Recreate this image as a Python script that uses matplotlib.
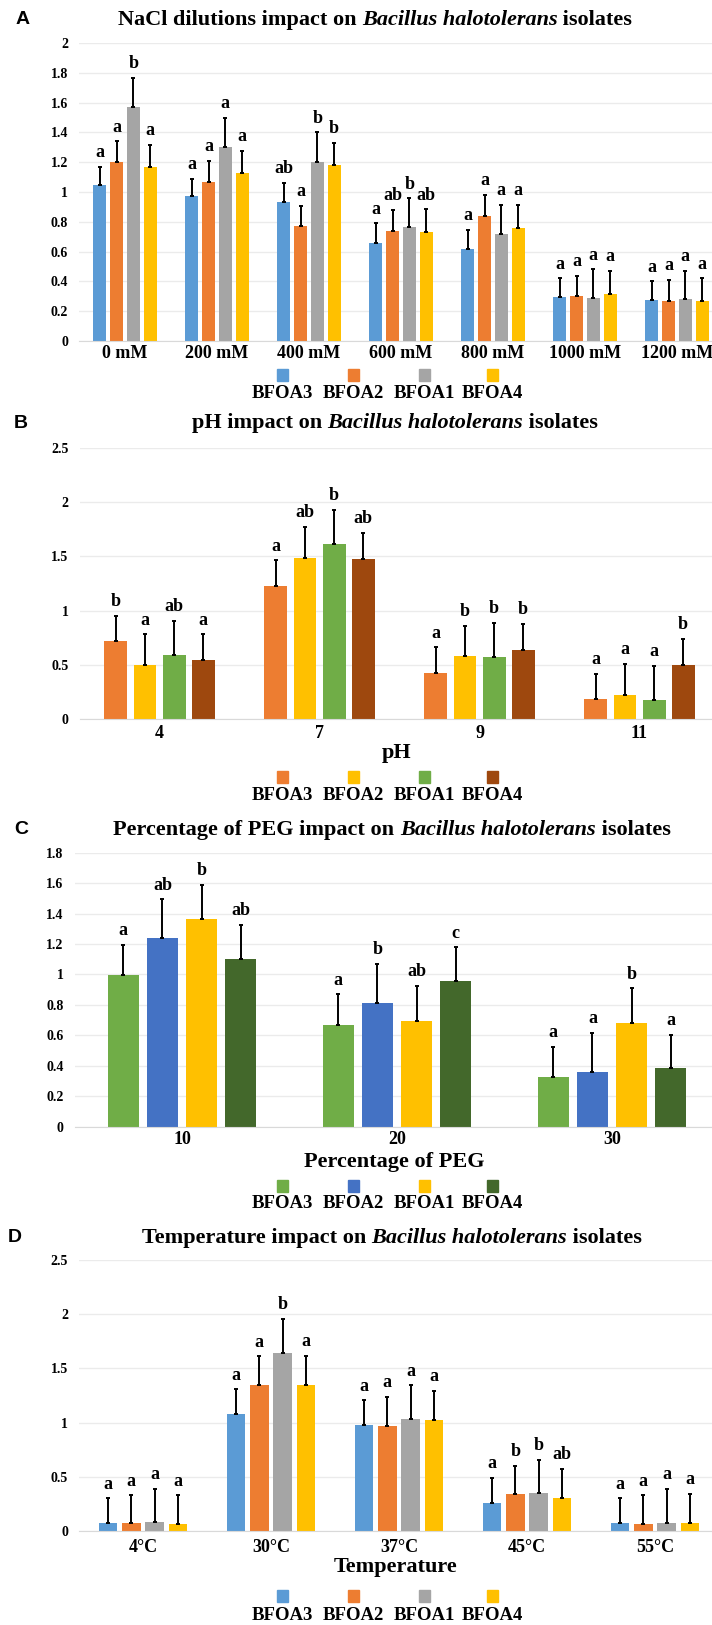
import matplotlib

matplotlib.use("Agg")
import matplotlib.pyplot as plt
import matplotlib.transforms as mtransforms
from matplotlib.patches import Rectangle
import numpy as np

W, H = 712, 1625
SERIF = "Liberation Serif"
SANS = "Liberation Sans"

STRAINS = ["BFOA3", "BFOA2", "BFOA1", "BFOA4"]

# --- A: NaCl ---------------------------------------------------------------
nacl_cats = ["0 mM", "200 mM", "400 mM", "600 mM", "800 mM", "1000 mM", "1200 mM"]
nacl_bfoa3 = [1.05, 0.97, 0.935, 0.66, 0.62, 0.293, 0.275]
nacl_bfoa2 = [1.20, 1.07, 0.772, 0.74, 0.84, 0.30, 0.268]
nacl_bfoa1 = [1.573, 1.30, 1.20, 0.763, 0.72, 0.289, 0.28]
nacl_bfoa4 = [1.166, 1.125, 1.18, 0.733, 0.76, 0.318, 0.268]
nacl_sd3 = [0.12, 0.12, 0.125, 0.13, 0.125, 0.127, 0.125]
nacl_sd2 = [0.14, 0.14, 0.136, 0.14, 0.14, 0.138, 0.141]
nacl_sd1 = [0.194, 0.20, 0.20, 0.195, 0.193, 0.192, 0.192]
nacl_sd4 = [0.149, 0.15, 0.15, 0.151, 0.153, 0.152, 0.152]
nacl_let3 = ["a", "a", "ab", "a", "a", "a", "a"]
nacl_let2 = ["a", "a", "a", "ab", "a", "a", "a"]
nacl_let1 = ["b", "a", "b", "b", "a", "a", "a"]
nacl_let4 = ["a", "a", "b", "ab", "a", "a", "a"]

# --- B: pH -----------------------------------------------------------------
ph_cats = ["4", "7", "9", "11"]
ph_bfoa3 = [0.721, 1.23, 0.429, 0.184]
ph_bfoa2 = [0.50, 1.488, 0.58, 0.227]
ph_bfoa1 = [0.592, 1.614, 0.576, 0.178]
ph_bfoa4 = [0.546, 1.476, 0.641, 0.50]
ph_sd3 = [0.233, 0.234, 0.234, 0.236]
ph_sd2 = [0.283, 0.286, 0.279, 0.283]
ph_sd1 = [0.316, 0.313, 0.314, 0.316]
ph_sd4 = [0.237, 0.237, 0.237, 0.24]
ph_let3 = ["b", "a", "a", "a"]
ph_let2 = ["a", "ab", "b", "a"]
ph_let1 = ["ab", "b", "b", "a"]
ph_let4 = ["a", "ab", "b", "b"]

# --- C: PEG ----------------------------------------------------------------
peg_cats = ["10", "20", "30"]
peg_bfoa3 = [0.996, 0.669, 0.327]
peg_bfoa2 = [1.237, 0.81, 0.36]
peg_bfoa1 = [1.362, 0.696, 0.678]
peg_bfoa4 = [1.099, 0.955, 0.382]
peg_sd3 = [0.197, 0.20, 0.198]
peg_sd2 = [0.257, 0.258, 0.257]
peg_sd1 = [0.228, 0.228, 0.231]
peg_sd4 = [0.226, 0.223, 0.22]
peg_let3 = ["a", "a", "a"]
peg_let2 = ["ab", "b", "a"]
peg_let1 = ["b", "ab", "b"]
peg_let4 = ["ab", "c", "a"]

# --- D: temperature --------------------------------------------------------
temp_cats = ["4°C", "30°C", "37°C", "45°C", "55°C"]
temp_bfoa3 = [0.074, 1.083, 0.981, 0.262, 0.07]
temp_bfoa2 = [0.07, 1.35, 0.966, 0.339, 0.065]
temp_bfoa1 = [0.08, 1.646, 1.033, 0.348, 0.075]
temp_bfoa4 = [0.062, 1.35, 1.021, 0.305, 0.07]
temp_sd3 = [0.226, 0.224, 0.225, 0.227, 0.23]
temp_sd2 = [0.26, 0.262, 0.27, 0.264, 0.265]
temp_sd1 = [0.31, 0.313, 0.311, 0.311, 0.315]
temp_sd4 = [0.268, 0.268, 0.27, 0.271, 0.27]
temp_let3 = ["a", "a", "a", "a", "a"]
temp_let2 = ["a", "a", "a", "b", "a"]
temp_let1 = ["a", "b", "a", "b", "a"]
temp_let4 = ["a", "a", "a", "ab", "a"]

COLORS_AD = ["#5B9BD5", "#ED7D31", "#A5A5A5", "#FFC000"]
COLORS_B = ["#ED7D31", "#FFC000", "#70AD47", "#9E480E"]
COLORS_C = ["#70AD47", "#4472C4", "#FFC000", "#43682B"]

PITCH = 0.182
BAR_W = 0.143


def fx(x):
    return x / W


def fy(y):
    return 1 - y / H


def mixed_title(fig, xc, yc, parts, size):
    """Title made of roman / italic pieces, centred on xc (pixels)."""
    r = fig.canvas.get_renderer()
    texts = [
        fig.text(0, fy(yc), s, fontsize=size, fontweight="bold", fontstyle=st,
                 family=SERIF, va="center", ha="left")
        for s, st in parts
    ]
    widths = [t.get_window_extent(r).width for t in texts]
    x = xc - sum(widths) / 2
    for t, w in zip(texts, widths):
        t.set_x(fx(x))
        x += w


def draw_panel(fig, box, cats, means, sds, letters, colors, ymax, ystep,
               title, title_xc, title_y, tag, tag_xy, xlabel, lay):
    left, right, top, bottom = box
    ax = fig.add_axes([fx(left), fy(bottom), fx(right - left), (bottom - top) / H])
    n = len(cats)
    x = np.arange(n)
    for j in range(4):
        xs = x + (j - 1.5) * PITCH
        ax.bar(xs, means[j], width=BAR_W, color=colors[j], zorder=2)
        ax.errorbar(xs, means[j], yerr=[np.zeros(n), sds[j]], fmt="none",
                    ecolor="black", elinewidth=1.4, capsize=1.2, capthick=1.4, zorder=3)
        for xi, m, s, lab in zip(xs, means[j], sds[j], letters[j]):
            ax.annotate(lab, (xi, m + s), xytext=(0, 7), textcoords="offset points",
                        ha="center", va="baseline", fontsize=13, fontweight="bold",
                        family=SERIF)
    ax.set_xlim(-0.5, n - 0.5)
    ax.set_ylim(0, ymax)
    ticks = np.round(np.arange(0, ymax + 1e-9, ystep), 2)
    ax.set_yticks(ticks)
    ax.set_yticklabels([f"{t:g}" for t in ticks], fontsize=10, fontweight="bold", family=SERIF)
    ax.tick_params(axis="y", length=0, pad=8)
    ax.set_xticks([])
    ax.grid(axis="y", color="#EBEBEB", lw=1, zorder=0)
    for side in ("top", "right", "left"):
        ax.spines[side].set_visible(False)
    ax.spines["bottom"].set_color("#D9D9D9")
    ax.set_facecolor("none")

    trans = mtransforms.blended_transform_factory(ax.transData, fig.transFigure)
    for xi, c in zip(x, cats):
        ax.text(xi, fy(lay["cat_y"]), c, transform=trans, ha="center", va="center",
                fontsize=13, fontweight="bold", family=SERIF)
    if xlabel:
        fig.text(fx((left + right) / 2 - 3), fy(lay["xlabel_y"]), xlabel, ha="center",
                 va="center", fontsize=16, fontweight="bold", family=SERIF)

    # legend: square above each name
    for cx, name, col in zip(lay["leg_x"], STRAINS, colors):
        fig.patches.append(Rectangle((fx(cx - 5.5), fy(lay["sq_y"] + 6)), 11 / W, 12 / H,
                                     transform=fig.transFigure, color=col))
        fig.text(fx(cx), fy(lay["txt_y"]), name, ha="center", va="center",
                 fontsize=13.5, fontweight="bold", family=SERIF)

    mixed_title(fig, title_xc, title_y, title, 16)
    fig.text(fx(tag_xy[0]), fy(tag_xy[1]), tag, ha="left", va="center",
             fontsize=14, fontweight="bold", family=SANS)
    return ax


def main():
    fig = plt.figure(figsize=(W / 100, H / 100), dpi=100)
    leg_x = [282, 353, 424, 492]
    species = "Bacillus halotolerans"

    draw_panel(
        fig, (79, 723, 43, 341), nacl_cats,
        [nacl_bfoa3, nacl_bfoa2, nacl_bfoa1, nacl_bfoa4],
        [nacl_sd3, nacl_sd2, nacl_sd1, nacl_sd4],
        [nacl_let3, nacl_let2, nacl_let1, nacl_let4],
        COLORS_AD, 2.0, 0.2,
        [("NaCl dilutions impact on ", "normal"), (species, "italic"), (" isolates", "normal")],
        375, 20, "A", (16, 20), None,
        dict(cat_y=353, xlabel_y=None, leg_x=leg_x, sq_y=375, txt_y=393),
    )
    draw_panel(
        fig, (79.5, 719.5, 447.7, 719.3), ph_cats,
        [ph_bfoa3, ph_bfoa2, ph_bfoa1, ph_bfoa4],
        [ph_sd3, ph_sd2, ph_sd1, ph_sd4],
        [ph_let3, ph_let2, ph_let1, ph_let4],
        COLORS_B, 2.5, 0.5,
        [("pH impact on ", "normal"), (species, "italic"), (" isolates", "normal")],
        395, 423, "B", (14, 423), "pH",
        dict(cat_y=733, xlabel_y=753, leg_x=leg_x, sq_y=777, txt_y=795),
    )
    draw_panel(
        fig, (74.5, 719.5, 852.7, 1126.5), peg_cats,
        [peg_bfoa3, peg_bfoa2, peg_bfoa1, peg_bfoa4],
        [peg_sd3, peg_sd2, peg_sd1, peg_sd4],
        [peg_let3, peg_let2, peg_let1, peg_let4],
        COLORS_C, 1.8, 0.2,
        [("Percentage of PEG impact on ", "normal"), (species, "italic"), (" isolates", "normal")],
        392, 830, "C", (14, 829), "Percentage of PEG",
        dict(cat_y=1140, xlabel_y=1162, leg_x=leg_x, sq_y=1186, txt_y=1204),
    )
    draw_panel(
        fig, (79, 719, 1260, 1531), temp_cats,
        [temp_bfoa3, temp_bfoa2, temp_bfoa1, temp_bfoa4],
        [temp_sd3, temp_sd2, temp_sd1, temp_sd4],
        [temp_let3, temp_let2, temp_let1, temp_let4],
        COLORS_AD, 2.5, 0.5,
        [("Temperature impact on ", "normal"), (species, "italic"), (" isolates", "normal")],
        392, 1238, "D", (8, 1237), "Temperature",
        dict(cat_y=1547, xlabel_y=1567, leg_x=leg_x, sq_y=1596, txt_y=1615),
    )

    fig.savefig("out.png", dpi=100)
    plt.close(fig)


if __name__ == "__main__":
    main()
